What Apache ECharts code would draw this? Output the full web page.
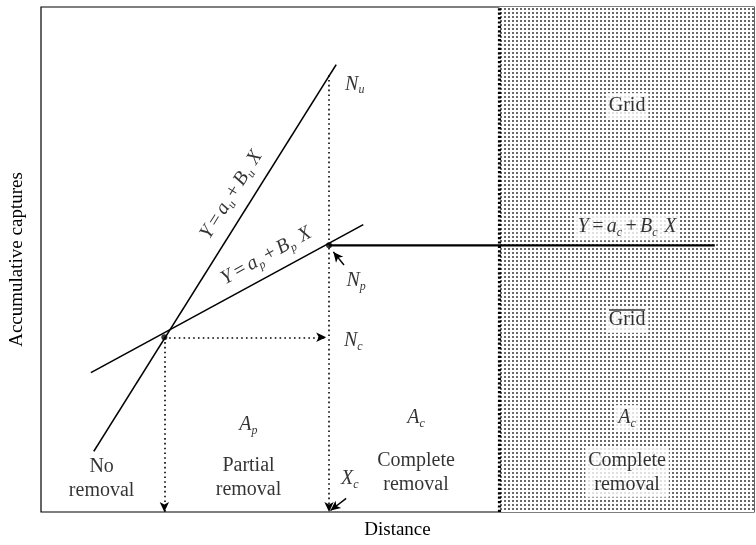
<!DOCTYPE html>
<html><head><meta charset="utf-8">
<script src="https://cdn.jsdelivr.net/npm/echarts@6/dist/echarts.min.js"></script>
<style>html,body{margin:0;padding:0;background:#fff}#c{width:756px;height:545px}</style>
</head><body><div id="c"></div>
<script>
// ---- data (schematic units) ----
const xRange = [0, 10];
const yRange = [0, 10];
const noRemovalLine = [[0.74, 1.20], [4.14, 8.86]];   // Y = a_u + B_u X
const partialLine   = [[0.70, 2.76], [4.52, 5.69]];   // Y = a_p + B_p X
const completeLine  = [[4.04, 5.28], [9.45, 5.28]];   // Y = a_c + B_c X
const breakPoint = [1.73, 3.46];   // start of partial removal
const XcX = 4.04;                  // X_c
const NuY = 8.65, NpY = 5.28, NcY = 3.46;
const gridEdgeX = 6.43;            // edge of the grid

const FONT = 'Liberation Serif';
const INK = '#000000';

// dot pattern for the grid area
const pat = document.createElement('canvas');
pat.width = 4; pat.height = 4;
const pc = pat.getContext('2d');
pc.fillStyle = '#ffffff'; pc.fillRect(0,0,4,4);
pc.fillStyle = '#6a6a6a'; pc.fillRect(0,0,2,2);

const rich = {
  r:  {fontFamily: FONT, fontSize: 20, color: INK, lineHeight: 24},
  i:  {fontFamily: FONT, fontSize: 20, fontStyle: 'italic', color: INK, lineHeight: 24},
  s:  {fontFamily: FONT, fontSize: 12, fontStyle: 'italic', color: INK, lineHeight: 12, verticalAlign: 'bottom'}
};

const annotations = [
  {t: '{i|N}{s|u}', c: [4.40, 8.47]},
  {t: '{i|N}{s|p}', c: [4.42, 4.58]},
  {t: '{i|N}{s|c}', c: [4.38, 3.39]},
  {t: '{i|A}{s|p}', c: [2.91, 1.72]},
  {t: '{i|A}{s|c}', c: [5.26, 1.86]},
  {t: '{i|A}{s|c}', c: [8.22, 1.86], bg: true},
  {t: '{r|No}\n{r|removal}', c: [0.85, 0.65]},
  {t: '{r|Partial}\n{r|removal}', c: [2.91, 0.67]},
  {t: '{r|Complete}\n{r|removal}', c: [5.26, 0.78]},
  {t: '{r|Complete}\n{r|removal}', c: [8.22, 0.78], bg: true},
  {t: '{i|X}{s|c}', c: [4.33, 0.65]},
  {t: '{r|Grid}', c: [8.22, 8.04], bg: true},
  {t: '{r|Grid}', c: [8.22, 3.80], bg: true, over: true},
  {t: '{i|Y} {r|=} {i|a}{s|c} {r|+} {i|B}{s|c}  {i|X}', c: [8.22, 5.64], bg: true},
  {t: '{i|Y} {r|=} {i|a}{s|u} {r|+} {i|B}{s|u}  {i|X}', c: [2.67, 6.28], rot: 58},
  {t: '{i|Y} {r|=} {i|a}{s|p} {r|+} {i|B}{s|p}  {i|X}', c: [3.16, 5.07], rot: 29}
];

const dotted = {color: INK, width: 1.6, type: [1.6, 3.2]};
const seg = (a, b, arrow, style) => [
  {coord: a, symbol: 'none'},
  {coord: b, symbol: arrow ? 'arrow' : 'none', symbolSize: [7, 10], lineStyle: style}
];

const chart = echarts.init(document.getElementById('c'));
chart.setOption({
  animation: false,
  backgroundColor: '#fff',
  grid: {left: 39, right: 2, top: 7, bottom: 27, show: true, borderColor: INK, borderWidth: 1.2},
  xAxis: {type: 'value', min: xRange[0], max: xRange[1], axisLine: {show: false}, axisTick: {show: false},
    axisLabel: {show: false}, splitLine: {show: false},
    name: 'Distance', nameLocation: 'middle', nameGap: 9,
    nameTextStyle: {fontFamily: FONT, fontSize: 19, color: INK}},
  yAxis: {type: 'value', min: yRange[0], max: yRange[1], axisLine: {show: false}, axisTick: {show: false},
    axisLabel: {show: false}, splitLine: {show: false},
    name: 'Accumulative captures', nameLocation: 'middle', nameGap: 14,
    nameTextStyle: {fontFamily: FONT, fontSize: 19, color: INK}},
  series: [
    {type: 'line', data: [], z: 1, silent: true,
      markArea: {silent: true, itemStyle: {color: {image: pat, repeat: 'repeat'}},
        data: [[{coord: [gridEdgeX, yRange[0]]}, {coord: [xRange[1], yRange[1]]}]]}},
    {type: 'line', data: noRemovalLine, symbol: 'none', lineStyle: {color: INK, width: 1.6}, z: 3, silent: true},
    {type: 'line', data: partialLine, symbol: 'none', lineStyle: {color: INK, width: 1.6}, z: 3, silent: true},
    {type: 'line', data: completeLine, symbol: 'none', lineStyle: {color: INK, width: 2.2}, z: 3, silent: true},
    {type: 'line', data: [], z: 4, silent: true,
      markLine: {silent: true, animation: false, label: {show: false}, symbol: ['none', 'none'],
        lineStyle: dotted,
        data: [
          seg([XcX, NuY], [XcX, yRange[0]], true, dotted),
          seg(breakPoint, [breakPoint[0], yRange[0]], true, dotted),
          seg(breakPoint, [XcX - 0.04, NcY], true, dotted),
          seg([gridEdgeX, yRange[0]], [gridEdgeX, yRange[1]], false, {color: INK, width: 3.2, type: [2.2, 2.2]}),
          seg([4.25, 4.89], [4.10, 5.15], true, {color: INK, width: 1.4, type: 'solid'}),
          seg([4.28, 0.27], [4.06, 0.03], true, {color: INK, width: 1.4, type: 'solid'})
        ]}},
    {type: 'scatter', data: [breakPoint, [XcX, NpY]], symbolSize: 6, itemStyle: {color: INK}, z: 5, silent: true},
    {type: 'scatter', symbolSize: 0, z: 10, silent: true,
      data: annotations.map(a => ({
        value: a.c,
        label: {show: true, position: 'inside', formatter: a.t, rotate: a.rot || 0, rich: rich,
          align: 'center', verticalAlign: 'middle',
          backgroundColor: a.bg ? '#ffffff' : 'transparent', padding: a.bg ? [1, 3] : 0}
      }))},
    // overline of the lower "Grid"
    {type: 'scatter', zlevel: 2, z: 20, silent: true, symbol: 'rect', symbolSize: [36, 1.4],
      itemStyle: {color: INK},
      data: annotations.filter(a => a.over).map(a => [a.c[0], a.c[1] + 0.2])}
  ]
});
</script></body></html>
